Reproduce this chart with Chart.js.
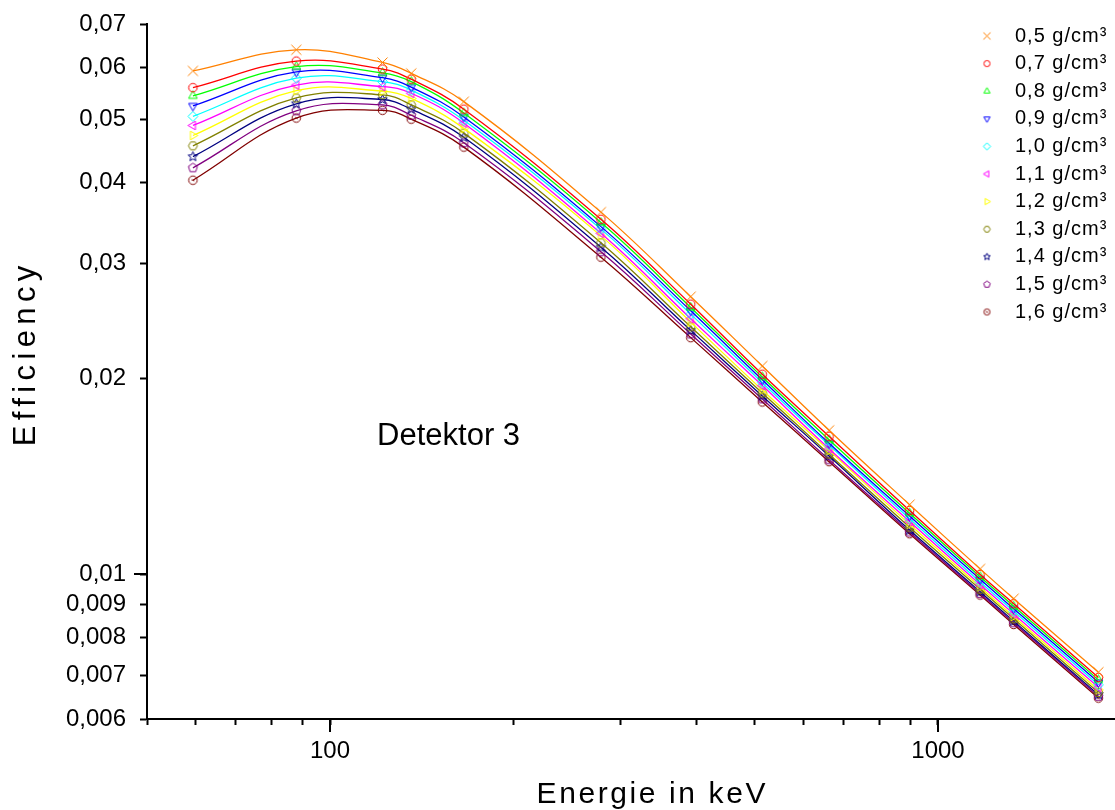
<!DOCTYPE html>
<html>
<head>
<meta charset="utf-8">
<script src="https://cdn.jsdelivr.net/npm/chart.js@4.4.0/dist/chart.umd.min.js"></script>
<style>
	html, body { margin: 0; padding: 0; background: #fff; }
	canvas { display: block; }
</style>
</head>
<body>
<canvas id="myChart" width="1115" height="810"></canvas>
<script>
// Energies of the calibration lines (keV)
var energies = [59.5, 88, 122, 136, 166, 279, 392, 514, 662, 898, 1173, 1332, 1836];

var densities = ['0,5 g/cm³', '0,7 g/cm³', '0,8 g/cm³', '0,9 g/cm³', '1,0 g/cm³', '1,1 g/cm³',
	'1,2 g/cm³', '1,3 g/cm³', '1,4 g/cm³', '1,5 g/cm³', '1,6 g/cm³'];

// efficiency per density
var eff05 = [0.0593, 0.0639, 0.0611, 0.0588, 0.0532, 0.0360, 0.0267, 0.0209, 0.01665, 0.0128, 0.0102, 0.00918, 0.00708];
var eff07 = [0.0559, 0.0614, 0.0597, 0.0576, 0.0518, 0.0351, 0.0260, 0.0203, 0.0163, 0.01254, 0.0100, 0.00902, 0.00695];
var eff08 = [0.0543, 0.0602, 0.0589, 0.0571, 0.0511, 0.0347, 0.0257, 0.0201, 0.0161, 0.01242, 0.00992, 0.00894, 0.00689];
var eff09 = [0.0524, 0.0591, 0.0579, 0.0560, 0.0504, 0.0342, 0.0254, 0.0199, 0.0159, 0.0123, 0.00983, 0.00886, 0.00683];
var eff10 = [0.0505, 0.0578, 0.0571, 0.0554, 0.0498, 0.0339, 0.0251, 0.0197, 0.0158, 0.01218, 0.00974, 0.00878, 0.00677];
var eff11 = [0.0489, 0.0564, 0.0561, 0.0548, 0.0493, 0.0334, 0.0247, 0.0195, 0.0156, 0.01206, 0.00965, 0.0087, 0.00671];
var eff12 = [0.0472, 0.0553, 0.0552, 0.0538, 0.0484, 0.0331, 0.0244, 0.0192, 0.0155, 0.01194, 0.00957, 0.00862, 0.00665];
var eff13 = [0.0455, 0.0539, 0.0545, 0.0526, 0.0476, 0.0323, 0.0240, 0.0190, 0.0153, 0.01182, 0.00949, 0.00855, 0.00659];
var eff14 = [0.0438, 0.0528, 0.0536, 0.0518, 0.0469, 0.0318, 0.0237, 0.0188, 0.0152, 0.0117, 0.00941, 0.00848, 0.00654];
var eff15 = [0.0421, 0.0515, 0.0526, 0.0507, 0.0460, 0.0313, 0.0234, 0.0186, 0.0150, 0.01162, 0.00935, 0.00843, 0.0065];
var eff16 = [0.0403, 0.0502, 0.0516, 0.0500, 0.0453, 0.0307, 0.0231, 0.0184, 0.0149, 0.01155, 0.0093, 0.00838, 0.00646];

var xTicks = [50, 60, 70, 80, 90, 100, 200, 300, 400, 500, 600, 700, 800, 900, 1000];
var xLabels = [100, 1000];
var yTicks = [0.006, 0.007, 0.008, 0.009, 0.01, 0.02, 0.03, 0.04, 0.05, 0.06, 0.07];
var yMajor = [0.01];

var seriesValues = [eff05, eff07, eff08, eff09, eff10, eff11, eff12, eff13, eff14, eff15, eff16];
var seriesColors = ['#FF8000', '#FF0000', '#00FF00', '#0000FF', '#00FFFF', '#FF00FF',
	'#FFFF00', '#808000', '#000080', '#800080', '#800000'];
var markerKinds = ['cross', 'circle', 'triUp', 'triDown', 'diamond', 'triLeft',
	'triRight', 'hexagon', 'star', 'pentagon', 'circleDot'];

var fontFamily = 'Arial, "Liberation Sans", sans-serif';

function makeMarker(kind, color, r) {
	var size = 2 * Math.ceil(r) + 5;
	var c = document.createElement('canvas');
	c.width = size;
	c.height = size;
	var g = c.getContext('2d');
	var m = size / 2;
	g.strokeStyle = color;
	g.lineWidth = 1;
	g.beginPath();
	function poly(n, rad, rot) {
		for (var i = 0; i < n; i++) {
			var a = rot + i * 2 * Math.PI / n;
			var px = m + rad * Math.cos(a), py = m + rad * Math.sin(a);
			if (i === 0) g.moveTo(px, py); else g.lineTo(px, py);
		}
		g.closePath();
	}
	switch (kind) {
		case 'cross':
			g.moveTo(m - r, m - r); g.lineTo(m + r, m + r);
			g.moveTo(m - r, m + r); g.lineTo(m + r, m - r);
			break;
		case 'circle':
			g.arc(m, m, r * 0.85, 0, 2 * Math.PI);
			break;
		case 'triUp': poly(3, r, -Math.PI / 2); break;
		case 'triDown': poly(3, r, Math.PI / 2); break;
		case 'triLeft': poly(3, r, Math.PI); break;
		case 'triRight': poly(3, r, 0); break;
		case 'diamond': poly(4, r, -Math.PI / 2); break;
		case 'hexagon': poly(6, r * 0.9, 0); break;
		case 'pentagon': poly(5, r * 0.95, -Math.PI / 2); break;
		case 'star':
			for (var i = 0; i < 10; i++) {
				var a = -Math.PI / 2 + i * Math.PI / 5;
				var rad = i % 2 === 0 ? r : r * 0.45;
				var px = m + rad * Math.cos(a), py = m + rad * Math.sin(a);
				if (i === 0) g.moveTo(px, py); else g.lineTo(px, py);
			}
			g.closePath();
			break;
		case 'circleDot':
			g.arc(m, m, r * 0.85, 0, 2 * Math.PI);
			g.moveTo(m - r * 0.3, m - r * 0.1);
			g.lineTo(m + r * 0.3, m + r * 0.1);
			break;
	}
	g.stroke();
	return c;
}

var datasets = seriesValues.map(function (vals, i) {
	return {
		label: densities[i],
		data: energies.map(function (e, j) { return { x: e, y: vals[j] }; }),
		borderColor: seriesColors[i],
		backgroundColor: seriesColors[i],
		borderWidth: 1.3,
		pointStyle: makeMarker(markerKinds[i], seriesColors[i], 5),
		pointRadius: 5,
		tension: 0.4,
		fill: false
	};
});

var legendMarkers = markerKinds.map(function (k, i) { return makeMarker(k, seriesColors[i], 3.6); });

function spacedText(ctx, text, x, y, spacing) {
	ctx.letterSpacing = spacing + 'px';
	var w = ctx.measureText(text).width;
	ctx.fillText(text, x - (w - spacing) / 2, y);
	ctx.letterSpacing = '0px';
}

var extras = {
	id: 'extras',
	afterDraw: function (chart) {
		var ctx = chart.ctx, xs = chart.scales.x, ys = chart.scales.y, area = chart.chartArea;
		ctx.save();
		// long ticks at the decades
		ctx.strokeStyle = '#000';
		ctx.lineWidth = 2;
		xLabels.forEach(function (v) {
			var px = Math.round(xs.getPixelForValue(v));
			ctx.beginPath(); ctx.moveTo(px, area.bottom); ctx.lineTo(px, area.bottom + 13); ctx.stroke();
		});
		yMajor.forEach(function (v) {
			var py = Math.round(ys.getPixelForValue(v));
			ctx.beginPath(); ctx.moveTo(area.left, py); ctx.lineTo(area.left - 13, py); ctx.stroke();
		});

		ctx.fillStyle = '#000';
		ctx.textBaseline = 'alphabetic';
		ctx.textAlign = 'left';

		// annotation
		ctx.font = '31px ' + fontFamily;
		ctx.fillText('Detektor 3', xs.getPixelForValue(119.5), ys.getPixelForValue(0.0158));

		// axis titles
		ctx.font = '30px ' + fontFamily;
		spacedText(ctx, 'Energie in keV', (area.left + area.right) / 2 + 20, 803, 2.6);
		ctx.save();
		ctx.translate(35, 356);
		ctx.rotate(-Math.PI / 2);
		ctx.font = '31px ' + fontFamily;
		spacedText(ctx, 'Efficiency', 0, 0, 5.4);
		ctx.restore();

		// legend
		ctx.font = '20px ' + fontFamily;
		ctx.textBaseline = 'middle';
		densities.forEach(function (lab, i) {
			var cy = 36 + i * 27.6;
			var mk = legendMarkers[i];
			ctx.drawImage(mk, area.right - 128 - mk.width / 2, cy - mk.height / 2);
			ctx.letterSpacing = '1px';
			ctx.fillText(lab, area.right - 100, cy);
			ctx.letterSpacing = '0px';
		});
		ctx.restore();
	}
};

var ctx = document.getElementById('myChart');
var myChart = new Chart(ctx, {
	type: 'line',
	data: { datasets: datasets },
	options: {
		responsive: false,
		devicePixelRatio: 1,
		animation: false,
		layout: { autoPadding: false, padding: { top: 24, right: 0, left: 0, bottom: 0 } },
		plugins: {
			legend: { display: false },
			tooltip: { enabled: false }
		},
		scales: {
			x: {
				type: 'logarithmic',
				min: 50,
				max: 1955,
				afterBuildTicks: function (scale) {
					scale.ticks = xTicks.map(function (v) { return { value: v }; });
				},
				afterFit: function (scale) { scale.height = 91; },
				ticks: {
					autoSkip: false,
					maxRotation: 0,
					padding: 12,
					color: '#000',
					font: { size: 24, family: fontFamily },
					callback: function (v) { return xLabels.indexOf(v) >= 0 ? String(v) : ''; }
				},
				grid: { drawOnChartArea: false, tickLength: 6, tickWidth: 2, tickColor: '#000' },
				border: { color: '#000', width: 2 }
			},
			y: {
				type: 'logarithmic',
				min: 0.006,
				max: 0.07,
				afterBuildTicks: function (scale) {
					scale.ticks = yTicks.map(function (v) { return { value: v }; });
				},
				afterFit: function (scale) {
					scale.width = 147;
					scale.paddingTop = 0;
					scale.paddingBottom = 0;
				},
				ticks: {
					autoSkip: false,
					padding: 14,
					color: '#000',
					font: { size: 24, family: fontFamily },
					callback: function (v) { return String(v).replace('.', ','); }
				},
				grid: { drawOnChartArea: false, tickLength: 7, tickWidth: 2, tickColor: '#000' },
				border: { color: '#000', width: 2 }
			}
		}
	},
	plugins: [extras]
});
</script>
</body>
</html>
